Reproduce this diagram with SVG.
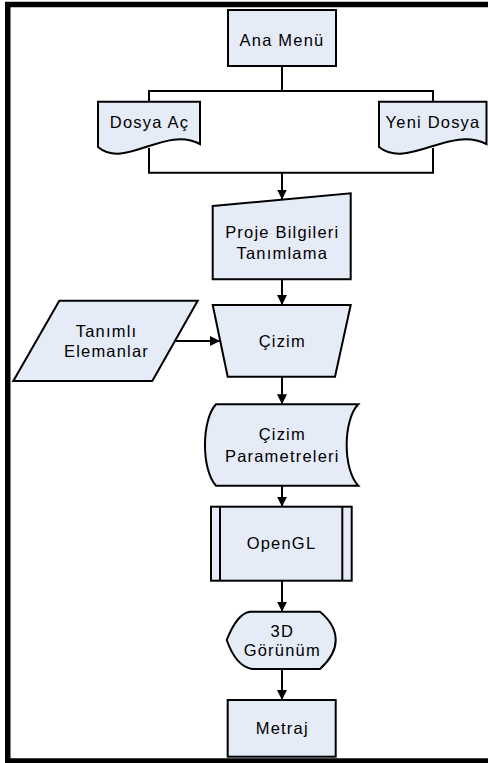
<svg xmlns="http://www.w3.org/2000/svg" width="488" height="763" viewBox="0 0 488 763">
<defs>
<marker id="arr" markerUnits="userSpaceOnUse" markerWidth="10" markerHeight="10" viewBox="0 0 9 9" refX="9" refY="4.5" orient="auto">
<path d="M0,0 L9,4.5 L0,9 Z" fill="#000"/>
</marker>
<style>
.s{fill:#e5ebf7;stroke:#000;stroke-width:2;stroke-linejoin:miter}
.c{fill:none;stroke:#000;stroke-width:2}
.a{marker-end:url(#arr)}
text{font-family:"Liberation Sans",Arial,sans-serif;font-size:16.5px;letter-spacing:1.2px;fill:#000;text-anchor:middle}
</style>
</defs>
<rect x="0" y="0" width="488" height="763" fill="#fff"/>
<rect x="7.75" y="4.5" width="600" height="756.5" fill="none" stroke="#000" stroke-width="5.5"/>
<g id="connectors">
<path class="c" d="M282,66 V91 M149,101.7 V91 H433 V101.7"/>
<path class="c" d="M149,148 V172.7 H433 V148"/>
<path class="c a" d="M282,172.7 V199.5"/>
<path class="c a" d="M282,279.3 V305"/>
<path class="c a" d="M175.7,341 H220"/>
<path class="c a" d="M282,376.7 V404.3"/>
<path class="c a" d="M282,485.7 V506.7"/>
<path class="c a" d="M282,580.7 V611.7"/>
<path class="c a" d="M282,669 V700"/>
</g>
<g id="ana-menu">
<rect class="s" x="228" y="10" width="108" height="56"/>
<text x="282" y="45.7">Ana Menü</text>
</g>
<g id="dosya-ac">
<path class="s" d="M98,101.7 H200 V144 C165,125 125,170 98,147 Z"/>
<text x="149.5" y="128">Dosya Aç</text>
</g>
<g id="yeni-dosya">
<path class="s" d="M379,101.7 H486.5 V144 C450,125 407.6,170 379,147 Z"/>
<text x="433" y="128">Yeni Dosya</text>
</g>
<g id="proje-bilgileri">
<path class="s" d="M212.7,206 L350.7,193.3 L350.7,279.3 L212.7,279.3 Z"/>
<text x="282.3" y="238.3">Proje Bilgileri</text>
<text x="282.3" y="258.7">Tanımlama</text>
</g>
<g id="tanimli-elemanlar">
<path class="s" d="M59.3,300.7 L197.7,300.7 L152.3,381 L13.3,381 Z"/>
<text x="106.5" y="336.7">Tanımlı</text>
<text x="106.5" y="356.7">Elemanlar</text>
</g>
<g id="cizim">
<path class="s" d="M212.7,305 L350.7,305 L335,376.7 L227.7,376.7 Z"/>
<text x="282.3" y="346.5">Çizim</text>
</g>
<g id="cizim-parametreleri">
<path class="s" d="M216,404.3 H358.3 C342.8,420 342.8,470 358.3,485.7 H216 C201.3,470 201.3,420 216,404.3 Z"/>
<text x="282.3" y="440">Çizim</text>
<text x="282.3" y="461.7">Parametreleri</text>
</g>
<g id="opengl">
<rect class="s" x="211" y="506.7" width="140.7" height="74"/>
<path class="c" d="M220,506.7 V580.7 M342.3,506.7 V580.7"/>
<text x="281.5" y="549">OpenGL</text>
</g>
<g id="gorunum">
<path class="s" d="M226.7,640 C233,624 240,613 250,611.7 H320 C330,620 335.7,630 335.7,640 C335.7,650 330,660 320,669 H252 C240,667 232,655 226.7,640 Z"/>
<text x="282.3" y="636.7">3D</text>
<text x="282.3" y="656">Görünüm</text>
</g>
<g id="metraj">
<rect class="s" x="227.7" y="700" width="108" height="56.7"/>
<text x="282.3" y="734">Metraj</text>
</g>
</svg>
